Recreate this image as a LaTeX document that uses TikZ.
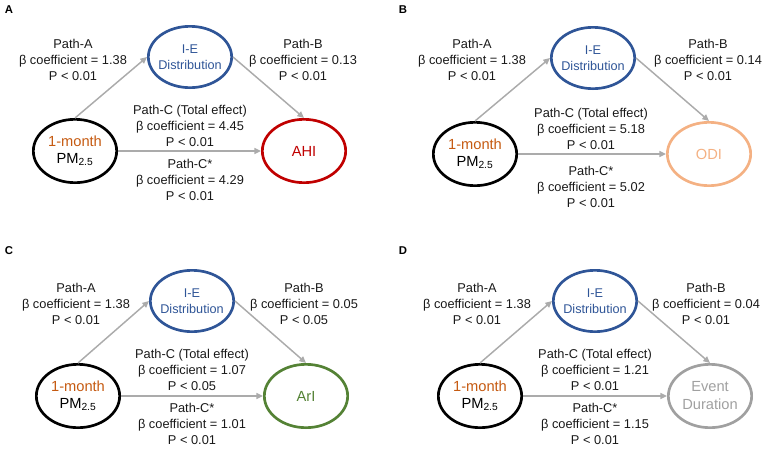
\documentclass[tikz,border=0pt]{standalone}
\usepackage{fontspec}
\setmainfont{Liberation Sans}
\usepackage{xcolor}
\usepackage{tikz}
\usetikzlibrary{shapes.geometric,arrows.meta}

\definecolor{pmorange}{HTML}{C55A11}
\definecolor{ieblue}{HTML}{2F5597}
\definecolor{ahired}{HTML}{C00000}
\definecolor{odiorange}{HTML}{F4B183}
\definecolor{arigreen}{HTML}{548235}
\definecolor{evgray}{HTML}{A0A0A0}
\definecolor{arrgray}{HTML}{ABABAB}

\begin{document}
\begin{tikzpicture}[
  x=0.75pt, y=-0.75pt,
  expo/.style={draw=black, ellipse, line width=2pt, minimum width=62.5pt, minimum height=47.5pt, inner sep=-3pt, align=center, font=\fontsize{11}{12.5}\selectfont},
  medi/.style={draw=ieblue, ellipse, line width=2pt, minimum width=62.5pt, minimum height=46pt, inner sep=-3pt, align=center, text=ieblue, font=\fontsize{9.5}{12}\selectfont},
  outc/.style={ellipse, line width=2pt, minimum width=62.5pt, minimum height=47.5pt, inner sep=-3pt, align=center, font=\fontsize{11}{13.5}\selectfont},
  coef/.style={align=center, inner sep=0pt, text=black!90, font=\fontsize{9.6}{12}\selectfont},
  panel/.style={inner sep=0pt, font=\fontsize{8.5}{10}\selectfont\bfseries},
  arr/.style={-{Triangle[length=5pt,width=4.5pt]}, draw=arrgray, line width=1.1pt},
]
\useasboundingbox (0,0) rectangle (767,450);

% panel A
\node[panel] (labA) at (9,10) {A};
\node[expo] (pmA) at (75,151) {\textcolor{pmorange}{1-month}\\PM\textsubscript{2.5}};
\node[medi] (ieA) at (190,57) {I-E\\Distribution};
\node[outc, draw=ahired, text=ahired] (ahi) at (304,151) {AHI};
\node[coef] (coefAa) at (73,60) {Path-A\\β coefficient = 1.38\\P < 0.01};
\node[coef] (coefAb) at (303,60) {Path-B\\β coefficient = 0.13\\P < 0.01};
\node[coef] (coefAc) at (190,126) {Path-C (Total effect)\\β coefficient = 4.45\\P < 0.01};
\node[coef] (coefAd) at (190,180) {Path-C*\\β coefficient = 4.29\\P < 0.01};
\draw[arr] (pmA.north) -- (ieA.west);
\draw[arr] (ieA.east) -- (ahi.north);
\draw[arr] (pmA.east) -- (ahi.west);

% panel B
\node[panel] (labB) at (403,10) {B};
\node[expo] (pmB) at (475,154) {\textcolor{pmorange}{1-month}\\PM\textsubscript{2.5}};
\node[medi] (ieB) at (593,58) {I-E\\Distribution};
\node[outc, draw=odiorange, text=odiorange] (odi) at (709,154) {ODI};
\node[coef] (coefBa) at (472,60) {Path-A\\β coefficient = 1.38\\P < 0.01};
\node[coef] (coefBb) at (708,60) {Path-B\\β coefficient = 0.14\\P < 0.01};
\node[coef] (coefBc) at (591,129) {Path-C (Total effect)\\β coefficient = 5.18\\P < 0.01};
\node[coef] (coefBd) at (591,187) {Path-C*\\β coefficient = 5.02\\P < 0.01};
\draw[arr] (pmB.north) -- (ieB.west);
\draw[arr] (ieB.east) -- (odi.north);
\draw[arr] (pmB.east) -- (odi.west);

% panel C
\node[panel] (labC) at (9,251) {C};
\node[expo] (pmC) at (78,396) {\textcolor{pmorange}{1-month}\\PM\textsubscript{2.5}};
\node[medi] (ieC) at (192,301) {I-E\\Distribution};
\node[outc, draw=arigreen, text=arigreen] (ari) at (306,396) {ArI};
\node[coef] (coefCa) at (76,304) {Path-A\\β coefficient = 1.38\\P < 0.01};
\node[coef] (coefCb) at (304,304) {Path-B\\β coefficient = 0.05\\P < 0.05};
\node[coef] (coefCc) at (192,370) {Path-C (Total effect)\\β coefficient = 1.07\\P < 0.05};
\node[coef] (coefCd) at (192,424) {Path-C*\\β coefficient = 1.01\\P < 0.01};
\draw[arr] (pmC.north) -- (ieC.west);
\draw[arr] (ieC.east) -- (ari.north);
\draw[arr] (pmC.east) -- (ari.west);

% panel D
\node[panel] (labD) at (403,251) {D};
\node[expo] (pmD) at (480,396) {\textcolor{pmorange}{1-month}\\PM\textsubscript{2.5}};
\node[medi] (ieD) at (595,301) {I-E\\Distribution};
\node[outc, draw=evgray, text=evgray] (evt) at (710,396) {Event\\Duration};
\node[coef] (coefDa) at (477,304) {Path-A\\β coefficient = 1.38\\P < 0.01};
\node[coef] (coefDb) at (706,304) {Path-B\\β coefficient = 0.04\\P < 0.01};
\node[coef] (coefDc) at (595,370) {Path-C (Total effect)\\β coefficient = 1.21\\P < 0.01};
\node[coef] (coefDd) at (595,424) {Path-C*\\β coefficient = 1.15\\P < 0.01};
\draw[arr] (pmD.north) -- (ieD.west);
\draw[arr] (ieD.east) -- (evt.north);
\draw[arr] (pmD.east) -- (evt.west);
\end{tikzpicture}
\end{document}
